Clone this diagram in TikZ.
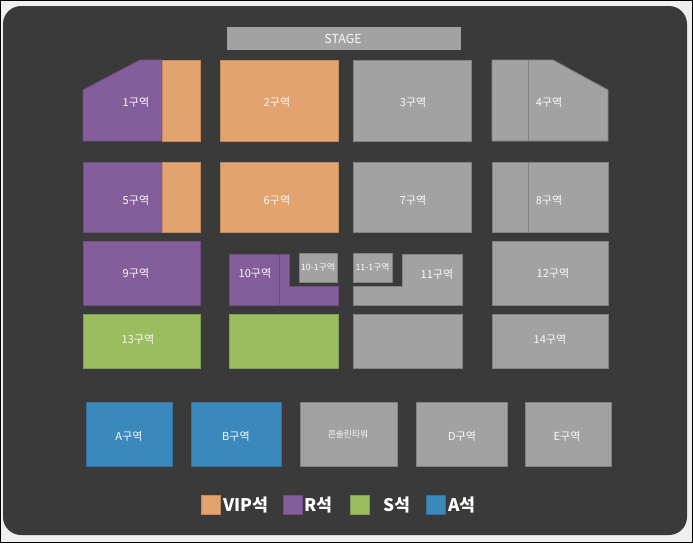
\documentclass[tikz,border=0pt]{standalone}
\usepackage{fontspec}
\newfontfamily\kr{Noto Sans CJK KR}
\definecolor{hallbg}{HTML}{3A3A3A}
\definecolor{pagebg}{HTML}{EFEFEF}
\definecolor{seatvip}{HTML}{E3A36E}
\definecolor{seatr}{HTML}{845E9A}
\definecolor{seats}{HTML}{9ABD60}
\definecolor{seata}{HTML}{3B88BC}
\definecolor{seatgray}{HTML}{A2A2A2}
\usetikzlibrary{positioning}

\begin{document}
\begin{tikzpicture}[
  x=0.75pt, y=-0.75pt,
  block/.style={line width=0.6pt},
  vip/.style={block, fill=seatvip, draw=seatvip!85!black},
  rseat/.style={block, fill=seatr, draw=seatr!85!black},
  sseat/.style={block, fill=seats, draw=seats!85!black},
  aseat/.style={block, fill=seata, draw=seata!85!black},
  gray/.style={block, fill=seatgray, draw=seatgray!80!black},
  lbl/.style={font=\kr\fontsize{8.3}{9}\selectfont, text=white!95!gray, inner sep=0pt},
  small/.style={lbl, font=\kr\fontsize{6.6}{7}\selectfont},
  legtxt/.style={font=\kr\bfseries\fontsize{13}{14}\selectfont, text=white, inner sep=0pt, anchor=west},
  divider/.style={line width=0.5pt}
]
  % page and hall
  \useasboundingbox (0,0) rectangle (693,543);
  \fill[pagebg] (0,0) rectangle (693,543);
  \draw[black, line width=0.9pt] (0.6,0.6) rectangle (692.4,542.4);
  \fill[hallbg, rounded corners=13.5pt] (3,6) rectangle (687,535);

  % stage
  \fill[seatgray] (227,27) rectangle (461,50);
  \node[lbl, font=\kr\fontsize{9.3}{10}\selectfont] (stage) at (343,38.5) {STAGE};

  % row 1
  \draw[rseat] (83,90) -- (140,60) -- (162,60) -- (162,141) -- (83,141) -- cycle;
  \draw[vip] (162,60) rectangle (200,141);
  \draw[vip] (220,60) rectangle (338,141);
  \draw[gray] (353,60) rectangle (471,141);
  \draw[gray] (492,60) -- (553,60) -- (608,90) -- (608,141) -- (492,141) -- cycle;
  \draw[divider, seatgray!80!black] (528,60) -- (528,141);
  \node[lbl] (z1) at (136,102) {1구역};
  \node[lbl] (z2) at (277,102) {2구역};
  \node[lbl] (z3) at (413,102) {3구역};
  \node[lbl] (z4) at (549,102) {4구역};

  % row 2
  \draw[rseat] (83,162) rectangle (162,232);
  \draw[vip] (162,162) rectangle (200,232);
  \draw[vip] (220,162) rectangle (338,232);
  \draw[gray] (353,162) rectangle (471,232);
  \draw[gray] (492,162) rectangle (608,232);
  \draw[divider, seatgray!80!black] (528,162) -- (528,232);
  \node[lbl] (z5) at (136,200) {5구역};
  \node[lbl] (z6) at (277,200) {6구역};
  \node[lbl] (z7) at (413,200) {7구역};
  \node[lbl] (z8) at (549,200) {8구역};

  % row 3
  \draw[rseat] (83,241) rectangle (200,305);
  \draw[rseat] (229,254) -- (289,254) -- (289,286) -- (338,286) -- (338,305) -- (229,305) -- cycle;
  \draw[divider, seatr!80!black] (279,254) -- (279,305);
  \draw[gray] (299,253) rectangle (337,282);
  \draw[gray] (353,253) rectangle (392,282);
  \draw[gray] (402,254) -- (462,254) -- (462,305) -- (353,305) -- (353,286) -- (402,286) -- cycle;
  \draw[gray] (492,241) rectangle (608,305);
  \node[lbl] (z9) at (136,273) {9구역};
  \node[lbl] (z10) at (255,273) {10구역};
  \node[small] (z10a) at (318,267.5) {10-1구역};
  \node[small] (z11a) at (372.5,267.5) {11-1구역};
  \node[lbl] (z11) at (437,274) {11구역};
  \node[lbl] (z12) at (553,273) {12구역};

  % row 4
  \draw[sseat] (83,314) rectangle (200,368);
  \draw[sseat] (229,314) rectangle (338,368);
  \draw[gray] (353,314) rectangle (462,368);
  \draw[gray] (492,314) rectangle (608,368);
  \node[lbl] (z13) at (138,339) {13구역};
  \node[lbl] (z14) at (550,339) {14구역};

  % floor blocks
  \draw[aseat] (86,402) rectangle (172,466);
  \draw[aseat] (191,402) rectangle (281,466);
  \draw[gray] (300,402) rectangle (397,466);
  \draw[gray] (416,402) rectangle (507,466);
  \draw[gray] (525,402) rectangle (611,466);
  \node[lbl] (za) at (129,436) {A구역};
  \node[lbl] (zb) at (236,436) {B구역};
  \node[small] (zc) at (348,434) {콘솔린타워};
  \node[lbl] (zd) at (462,436) {D구역};
  \node[lbl] (ze) at (567,436) {E구역};

  % legend
  \draw[vip] (201,495) rectangle (220,514);
  \node[legtxt] (legvip) at (223,505) {VIP석};
  \draw[rseat] (283,495) rectangle (302,514);
  \node[legtxt] (legr) at (304,505) {R석};
  \draw[sseat] (350,495) rectangle (369,514);
  \node[legtxt] (legs) at (383,505) {S석};
  \draw[aseat] (426,495) rectangle (445,514);
  \node[legtxt] (lega) at (448,505) {A석};
\end{tikzpicture}
\end{document}
